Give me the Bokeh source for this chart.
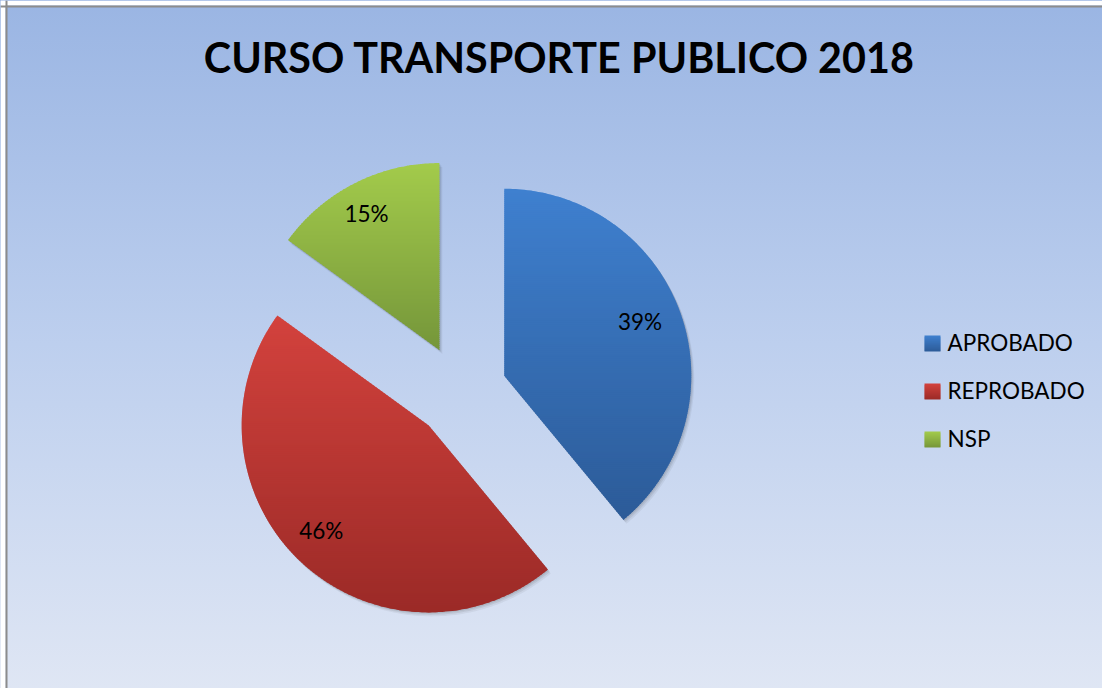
import numpy as np
from bokeh.plotting import figure
from bokeh.models import Range1d, Span
from bokeh.embed import file_html
from bokeh.resources import INLINE
from bokeh.core.properties import value

# ---- data ----
title_text = "CURSO TRANSPORTE PUBLICO 2018"
categories = ["APROBADO", "REPROBADO", "NSP"]
values = [39, 46, 15]
top_colors = ["#3F80CF", "#D3423D", "#A3CB4B"]
bottom_colors = ["#2C5B98", "#9B2A27", "#75963A"]

# ---- layout ----
W, H = 1102, 688
FONT = "Lato"

p = figure(width=W, height=H, x_range=Range1d(0, W), y_range=Range1d(H, 0),
           output_backend="svg", toolbar_location=None, min_border=0,
           x_axis_location=None, y_axis_location=None)
p.grid.visible = False
p.outline_line_color = None
p.background_fill_color = None
p.border_fill_color = None
p.styles = {"background": "linear-gradient(to bottom, #9AB5E3 0%, #BDCFEE 50%, #DFE6F4 100%)"}

# white page margin outside the chart frame, and the frame's grey edge
p.quad(left=[0, 0], right=[5, W], top=[0, 0], bottom=[H, 5], fill_color="white", line_color=None)
p.add_layout(Span(location=6, dimension="height", line_color="#8C8C8C", line_width=2))
p.add_layout(Span(location=6, dimension="width", line_color="#8C8C8C", line_width=2))


def hex2rgb(h):
    h = h.lstrip("#")
    return np.array([int(h[i:i + 2], 16) for i in (0, 2, 4)], dtype=float)


def mix(c0, c1, t):
    c = hex2rgb(c0) * (1 - t) + hex2rgb(c1) * t
    return "#%02x%02x%02x" % tuple(int(round(v)) for v in c)


def clip_half(pts, y, keep_greater):
    out = []
    n = len(pts)
    for i in range(n):
        cur = pts[i]
        prev = pts[i - 1]
        cin = cur[1] >= y if keep_greater else cur[1] <= y
        pin = prev[1] >= y if keep_greater else prev[1] <= y
        if cin:
            if not pin:
                t = (y - prev[1]) / (cur[1] - prev[1])
                out.append((prev[0] + t * (cur[0] - prev[0]), y))
            out.append(cur)
        elif pin:
            t = (y - prev[1]) / (cur[1] - prev[1])
            out.append((prev[0] + t * (cur[0] - prev[0]), y))
    return out


def gradient_bands(poly, c_top, c_bot, step=2.0):
    ys = [q[1] for q in poly]
    y_min, y_max = min(ys), max(ys)
    xs_l, ys_l, cols = [], [], []
    y = y_min
    while y < y_max:
        part = clip_half(poly, y, True)
        if part:
            part = clip_half(part, min(y + step + 1.0, y_max), False)
        if len(part) >= 3:
            xs_l.append([q[0] for q in part])
            ys_l.append([q[1] for q in part])
            t = (y + step / 2 - y_min) / max(y_max - y_min, 1e-6)
            cols.append(mix(c_top, c_bot, min(max(t, 0), 1)))
        y += step
    return xs_l, ys_l, cols


# ---- pie geometry ----
cx, cy = 460.0, 391.0
R = 187.0
EXPL = 46.5
total = float(sum(values))
cum = np.concatenate([[0.0], np.cumsum(values)]) / total * 2 * np.pi

polys, apexes, mids = [], [], []
for i, v in enumerate(values):
    a0, a1 = cum[i], cum[i + 1]
    mid = (a0 + a1) / 2
    ax = cx + EXPL * np.sin(mid)
    ay = cy - EXPL * np.cos(mid)
    th = np.linspace(a0, a1, 160)
    poly = [(ax, ay)] + [(ax + R * np.sin(t), ay - R * np.cos(t)) for t in th]
    polys.append(poly)
    apexes.append((ax, ay))
    mids.append(mid)

# soft shadows
for dx, dy, al in [(3.0, 4.0, 0.05), (2.0, 2.5, 0.07), (1.0, 1.2, 0.08)]:
    p.patches([[q[0] + dx for q in poly] for poly in polys],
              [[q[1] + dy for q in poly] for poly in polys],
              fill_color="#000000", fill_alpha=al, line_color=None)

# slices with vertical gradients
for i, poly in enumerate(polys):
    xs_l, ys_l, cols = gradient_bands(poly, top_colors[i], bottom_colors[i])
    p.patches(xs_l, ys_l, fill_color=cols, line_color=None)

# percentage labels
LBL_SIZE = 22.5
lx, ly, lt = [], [], []
for i, v in enumerate(values):
    ax, ay = apexes[i]
    d = 0.80 * R
    lx.append(ax + d * np.sin(mids[i]) - 5.0)
    ly.append(ay - d * np.cos(mids[i]) - 3.5)
    lt.append(f"{round(v / total * 100)}%")
p.text(lx, ly, text=lt, text_align="center", text_baseline="middle",
       text_font=value(FONT), text_font_size=f"{LBL_SIZE}px", text_color="#000000")

# title
p.text([559.0], [56.0], text=[title_text], text_align="center", text_baseline="middle",
       text_font=value(FONT), text_font_style="bold", text_font_size="41.3px", text_color="#000000")

# legend
leg_x, leg_y0, leg_dy, sq = 924.0, 343.0, 48.0, 16.0
tx, ty = [], []
for i, c in enumerate(categories):
    yc = leg_y0 + i * leg_dy
    sqpoly = [(leg_x, yc - sq / 2), (leg_x + sq, yc - sq / 2), (leg_x + sq, yc + sq / 2), (leg_x, yc + sq / 2)]
    xs_l, ys_l, cols = gradient_bands(sqpoly, top_colors[i], bottom_colors[i], step=2.0)
    p.patches(xs_l, ys_l, fill_color=cols, line_color=None)
    tx.append(leg_x + sq + 7)
    ty.append(yc - 1)
p.text(tx, ty, text=categories, text_align="left", text_baseline="middle",
       text_font=value(FONT), text_font_size="22.5px", text_color="#000000")

open("out.html", "w").write(file_html(p, INLINE))
